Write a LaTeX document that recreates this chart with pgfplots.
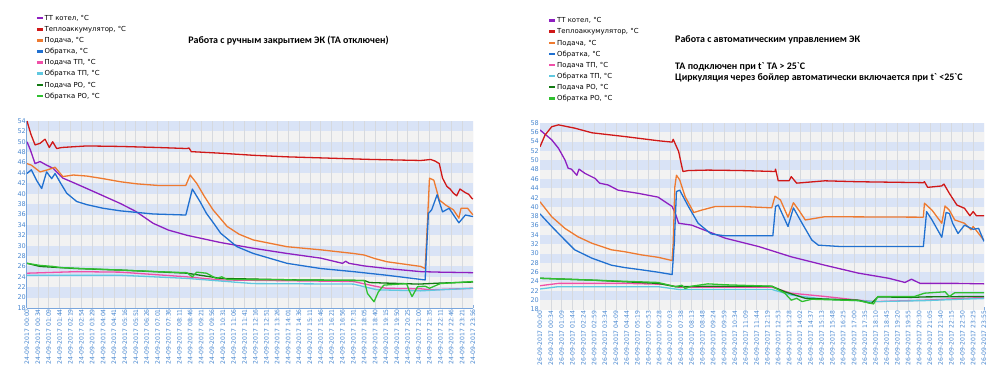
\documentclass[border=0pt]{standalone}
\usepackage{fontspec}
\setmainfont{DejaVu Sans}
\newfontfamily\titlefont{Carlito}
\usepackage{pgfplots}
\pgfplotsset{compat=1.18}
\definecolor{cPurple}{HTML}{8E1FC0}
\definecolor{cRed}{HTML}{D01818}
\definecolor{cOrange}{HTML}{EE7A30}
\definecolor{cBlue}{HTML}{2070D0}
\definecolor{cPink}{HTML}{F050A8}
\definecolor{cCyan}{HTML}{60C8E0}
\definecolor{cDGreen}{HTML}{127A12}
\definecolor{cGreen}{HTML}{30C030}
\definecolor{bandblue}{HTML}{D9E3F6}
\definecolor{bandgrey}{HTML}{F2F2F2}
\definecolor{tickblue}{HTML}{4A88D0}
\definecolor{axisblue}{HTML}{7AA6DC}
\definecolor{gridc}{HTML}{D6D9DE}
\pgfplotsset{
  legend image code/.code={\draw[#1,line width=2.5pt] (0pt,0pt) -- (6pt,0pt);},
  mychart/.style={
    scale only axis,
    anchor=south west,
    xmin=0, xmax=41,
    xtick={0,...,41},
    axis lines*=left,
    axis line style={color=axisblue, line width=1pt},
    tick style={color=axisblue, line width=0.6pt},
    major tick length=3pt,
    /pgf/number format/assume math mode=true,
    xticklabel style={rotate=90, anchor=east, font=\fontsize{6.1}{7}\selectfont, color=tickblue, inner sep=1pt},
    yticklabel style={font=\fontsize{6.5}{7}\selectfont, color=tickblue, inner sep=1pt},
    legend cell align=left,
    legend style={draw=none, fill=none, anchor=north west,
      font=\fontsize{6.9}{8}\selectfont, row sep=2.4pt,
      nodes={inner sep=0.6pt, text height=6pt, text depth=1.5pt}},
    every axis plot/.append style={line width=1.3pt, line join=round},
  }
}
\begin{document}
\begin{tikzpicture}
\useasboundingbox (0pt,0pt) rectangle (1000pt,380pt);
% ---------------- left chart
\begin{axis}[mychart,
  at={(27pt,72pt)}, width=446pt, height=187pt,
  ymin=18, ymax=54, ytick={18,20,...,54},
  legend style={at={(axis description cs:0.012,1.585)}},
  xticklabels={24-09-2017 00:00,24-09-2017 00:34,24-09-2017 01:09,24-09-2017 01:44,24-09-2017 02:19,24-09-2017 02:54,24-09-2017 03:29,24-09-2017 04:04,24-09-2017 04:41,24-09-2017 05:16,24-09-2017 05:51,24-09-2017 06:26,24-09-2017 07:01,24-09-2017 07:36,24-09-2017 08:11,24-09-2017 08:46,24-09-2017 09:21,24-09-2017 09:56,24-09-2017 10:31,24-09-2017 11:06,24-09-2017 11:41,24-09-2017 12:16,24-09-2017 12:51,24-09-2017 13:26,24-09-2017 14:01,24-09-2017 14:36,24-09-2017 15:11,24-09-2017 15:46,24-09-2017 16:21,24-09-2017 16:56,24-09-2017 17:31,24-09-2017 18:05,24-09-2017 18:40,24-09-2017 19:15,24-09-2017 19:50,24-09-2017 20:25,24-09-2017 21:00,24-09-2017 21:35,24-09-2017 22:11,24-09-2017 22:46,24-09-2017 23:21,24-09-2017 23:56},
]
\pgfplotsinvokeforeach{0,...,8}{
  \fill[bandblue] (axis cs:0,{20+4*#1}) rectangle (axis cs:41,{22+4*#1});
  \fill[bandgrey] (axis cs:0,{18+4*#1}) rectangle (axis cs:41,{20+4*#1});
}
\pgfplotsinvokeforeach{1,...,41}{
  \draw[gridc, line width=0.6pt] (axis cs:#1,18) -- (axis cs:#1,54);
}
\addplot[cPurple] coordinates {(0,50.0)(0.3,48.5)(0.74,45.8)(1.2,46.2)(1.8,45.5)(2.4,44.9)(3.3,43.0)(4.2,42.2)(5.5,41.0)(7,39.6)(8.6,38.1)(10,36.6)(11.6,34.3)(13,33.0)(14.7,32.0)(17.8,30.6)(20.8,29.5)(23.9,28.5)(27,27.6)(29,26.6)(29.3,27.0)(29.6,26.6)(31,26.1)(33.1,25.6)(36.2,25.0)(38,24.9)(41,24.8)};
\addlegendentry{ТТ котел, °C}
\addplot[cRed] coordinates {(0,54)(0.35,51.5)(0.74,49.4)(1.2,49.7)(1.66,50.5)(2.05,48.9)(2.36,50.0)(2.73,48.7)(3.2,48.9)(3.96,49.0)(5.5,49.2)(8.6,49.1)(12,48.9)(14.7,48.7)(14.9,48.8)(15.1,48.1)(17.8,47.8)(20.8,47.4)(23.9,47.1)(27,46.9)(31.6,46.6)(36.2,46.4)(36.7,46.5)(37.1,46.6)(37.5,46.3)(37.9,45.8)(38.2,43.0)(38.6,41.4)(38.9,40.9)(39.2,40.1)(39.5,39.6)(39.8,40.9)(40.3,40.2)(40.6,39.9)(40.9,39.1)(41,39.0)};
\addlegendentry{Теплоаккумулятор, °C}
\addplot[cOrange] coordinates {(0,45.8)(0.4,45.5)(1.2,44.2)(1.9,44.6)(2.58,45.1)(3.3,43.3)(4.26,43.6)(5.5,43.4)(7,42.9)(8.6,42.3)(10.1,41.9)(12,41.6)(14.6,41.6)(15,43.6)(15.6,42.0)(16.3,39.5)(17.1,36.9)(18.4,33.7)(19.5,32.2)(20.8,31.1)(23.9,29.8)(27,29.2)(30,28.5)(31,28.2)(32,27.5)(33.1,26.9)(36.2,26.0)(36.6,25.6)(36.8,34)(37.0,43.0)(37.4,42.6)(37.9,38.8)(38.5,37.8)(39.2,36.9)(39.7,35.3)(39.9,37.2)(40.5,37.2)(41,35.9)};
\addlegendentry{Подача, °C}
\addplot[cBlue] coordinates {(0,43.9)(0.4,44.6)(0.9,42.5)(1.35,41.0)(1.8,44.2)(2.27,42.9)(2.58,43.9)(3.1,42)(3.65,40.1)(4.57,38.5)(5.5,37.9)(7,37.2)(8.6,36.7)(11.6,36.1)(14.6,35.9)(15.2,40.9)(15.9,38.5)(16.5,36.2)(17.2,34.2)(17.8,32.4)(19.3,29.8)(20.8,28.5)(23.9,26.6)(27,25.6)(30,25.0)(33.1,24.3)(36.6,23.4)(36.9,36.2)(37.2,36.9)(37.7,39.8)(38.2,36.5)(38.8,37.2)(39.7,34.4)(40.3,35.9)(41,35.6)};
\addlegendentry{Обратка, °C}
\addplot[cPink] coordinates {(0,24.7)(4.6,25.0)(8.6,24.9)(14.7,24.0)(17.8,23.4)(30,23.1)(32,22.2)(33,21.8)(36.2,21.7)(37.1,21.5)(41,21.8)};
\addlegendentry{Подача ТП, °C}
\addplot[cCyan] coordinates {(0,24.3)(8.6,24.3)(14.7,23.7)(20.8,22.7)(30,22.6)(32.2,21.5)(36.2,21.3)(38,21.5)(41,21.8)};
\addlegendentry{Обратка ТП, °C}
\addplot[cDGreen] coordinates {(0,26.6)(1.2,26.0)(4.5,25.6)(8.6,25.3)(14.7,24.7)(17.8,23.7)(25,23.4)(31,23.3)(31.5,22.9)(33,22.8)(36,22.6)(38,22.8)(41,23.0)};
\addlegendentry{Подача РО, °C}
\addplot[cGreen] coordinates {(0,26.6)(1.2,26.2)(2.4,26.0)(3,25.8)(5,25.6)(8.6,25.3)(12,25.0)(14.7,24.8)(15.2,24.0)(15.6,24.9)(16.5,24.7)(17.4,23.7)(17.9,24.0)(18.4,23.5)(25,23.4)(31,23.3)(31.3,20.8)(31.9,19.2)(32.3,21.1)(32.8,22.4)(34.9,22.7)(35.1,21.5)(35.4,20.2)(35.9,22.1)(36.6,22.2)(37,21.8)(38,22.7)(41,23.1)};
\addlegendentry{Обратка РО, °C}
\end{axis}
% ---------------- right chart
\begin{axis}[mychart,
  at={(540pt,70.5pt)}, width=444pt, height=186.5pt,
  ymin=18, ymax=58, ytick={18,20,...,58},
  legend style={at={(axis description cs:0.011,1.584)}},
  xticklabels={26-09-2017 00:00,26-09-2017 00:34,26-09-2017 01:09,26-09-2017 01:44,26-09-2017 02:24,26-09-2017 02:59,26-09-2017 03:34,26-09-2017 04:09,26-09-2017 04:44,26-09-2017 05:19,26-09-2017 05:53,26-09-2017 06:28,26-09-2017 07:03,26-09-2017 07:38,26-09-2017 08:13,26-09-2017 08:48,26-09-2017 09:24,26-09-2017 09:59,26-09-2017 10:34,26-09-2017 11:09,26-09-2017 11:44,26-09-2017 12:19,26-09-2017 12:53,26-09-2017 13:28,26-09-2017 14:02,26-09-2017 14:37,26-09-2017 15:13,26-09-2017 15:48,26-09-2017 16:25,26-09-2017 17:00,26-09-2017 17:35,26-09-2017 18:10,26-09-2017 18:45,26-09-2017 19:20,26-09-2017 19:55,26-09-2017 20:30,26-09-2017 21:05,26-09-2017 21:40,26-09-2017 22:15,26-09-2017 22:50,26-09-2017 23:25,26-09-2017 23:55},
]
\pgfplotsinvokeforeach{0,...,9}{
  \fill[bandblue] (axis cs:0,{20+4*#1}) rectangle (axis cs:41,{22+4*#1});
  \fill[bandgrey] (axis cs:0,{18+4*#1}) rectangle (axis cs:41,{20+4*#1});
}
\pgfplotsinvokeforeach{1,...,41}{
  \draw[gridc, line width=0.6pt] (axis cs:#1,18) -- (axis cs:#1,58);
}
\addplot[cPurple] coordinates {(0,56.5)(1.08,54.4)(1.7,52.6)(2.3,50.1)(2.6,48.3)(2.9,48.1)(3.4,46.8)(3.6,48.1)(4.15,47.2)(5.1,46.1)(5.5,45.1)(6.3,44.7)(7.2,43.6)(9.1,42.9)(10.9,42.1)(12.2,40.1)(12.5,38.6)(12.8,36.5)(14,36.1)(17.1,33.3)(20.2,31.5)(23.2,29.3)(26.3,27.5)(29.4,25.8)(32.2,24.7)(33.7,23.8)(34.3,24.5)(35.1,23.6)(38.6,23.6)(41,23.5)};
\addlegendentry{ТТ котел, °C}
\addplot[cRed] coordinates {(0,52.9)(0.46,55.4)(1.08,57.2)(1.7,57.6)(3.2,56.9)(4.8,55.9)(7.8,55.1)(10.9,54.2)(12.2,53.9)(12.3,54.5)(12.8,51.9)(13.0,49.7)(13.2,47.6)(13.7,47.8)(15.5,47.9)(18.6,47.8)(21.7,47.6)(21.75,48.1)(22.0,45.6)(23.0,45.6)(23.2,46.5)(23.7,45.1)(26.3,45.6)(29.4,45.4)(32.5,45.3)(35.4,45.2)(35.5,45.4)(35.8,44.2)(37.1,44.5)(37.3,44.9)(37.8,42.9)(38.5,40.4)(39.2,39.7)(39.7,38.1)(40,39.0)(40.3,38.1)(41,38.1)};
\addlegendentry{Теплоаккумулятор, °C}
\addplot[cOrange] coordinates {(0,41.1)(1.08,37.9)(2.3,35.4)(3.5,33.6)(4.8,32.2)(6.6,30.8)(7.8,30.4)(9.4,29.7)(10.9,29.2)(12.2,28.5)(12.3,32.2)(12.45,44.3)(12.6,46.8)(12.9,45.8)(13.4,42.2)(14.2,38.8)(14.9,39.3)(16.2,40.1)(18.6,40.1)(21.4,39.8)(21.7,42.3)(22.2,41.5)(22.9,37.8)(23.4,40.9)(23.9,39.3)(24.5,37.2)(26.3,37.9)(35.4,37.8)(35.5,40.8)(36.2,39.3)(37.1,36.5)(37.4,40.2)(37.8,39.3)(38.3,37.2)(39.2,36.5)(39.8,35.1)(40,35.8)(41,32.8)};
\addlegendentry{Подача, °C}
\addplot[cBlue] coordinates {(0,38.5)(1.08,35.8)(2.3,32.9)(3.2,30.8)(4.8,29.0)(6.6,27.5)(7.8,27.0)(9.4,26.5)(10.9,26.0)(12.2,25.5)(12.4,32.2)(12.6,43.3)(12.9,43.6)(13.7,40.1)(14.6,36.5)(15.8,34.2)(17.1,33.8)(21.5,33.8)(21.75,40.1)(22.0,40.4)(22.9,35.8)(23.4,39.8)(24.2,36.5)(25.1,32.9)(25.7,31.8)(27.8,31.5)(35.4,31.5)(35.7,39.0)(36.2,37.2)(37.1,33.5)(37.5,38.8)(37.8,38.6)(38.1,36.5)(38.6,34.3)(39.2,36.1)(40,35.2)(40.5,35.4)(41,32.6)};
\addlegendentry{Обратка, °C}
\addplot[cPink] coordinates {(0,23.1)(1.7,23.6)(7.8,23.6)(11.5,23.4)(12.8,22.8)(21.4,22.8)(23.2,21.5)(26.3,20.8)(29.4,20.0)(30.9,19.7)(35.5,20.0)(41,20.6)};
\addlegendentry{Подача ТП, °C}
\addplot[cCyan] coordinates {(0,22.4)(1.7,22.9)(10.9,22.9)(12.8,22.3)(21.4,22.3)(23.2,21.1)(26.3,20.2)(29.4,19.9)(30.9,19.7)(35.5,19.9)(41,20.4)};
\addlegendentry{Обратка ТП, °C}
\addplot[cDGreen] coordinates {(0,24.7)(4.8,24.3)(10.9,23.6)(12.5,22.9)(15.9,23.0)(21.4,23.0)(22.6,21.8)(24.5,20.4)(29.4,20.0)(30.6,19.3)(31.2,20.7)(34.3,20.6)(35.5,20.7)(41,20.8)};
\addlegendentry{Подача РО, °C}
\addplot[cGreen] coordinates {(0,24.7)(4.8,24.3)(10.9,23.8)(12.5,22.9)(13.1,23.2)(13.4,22.5)(14,23.0)(15.5,23.5)(17.1,23.3)(21.4,23.0)(22.6,21.5)(23.2,20.0)(23.7,20.4)(24.2,19.7)(25.1,20.2)(29.4,19.9)(30.8,19.2)(31.2,20.8)(34.6,20.8)(35.5,21.5)(37.4,21.8)(37.8,20.8)(38.3,21.6)(41,21.6)};
\addlegendentry{Обратка РО, °C}
\end{axis}
% ---------------- titles
\node[anchor=center, font=\titlefont\bfseries\fontsize{10}{12}\selectfont] at (288.5pt,339pt) {Работа с ручным закрытием ЭК (ТА отключен)};
\node[anchor=west, inner sep=0pt, font=\titlefont\bfseries\fontsize{10}{12}\selectfont] at (675pt,340pt) {Работа с автоматическим управлением ЭК};
\node[anchor=west, inner sep=0pt, font=\titlefont\bfseries\fontsize{10}{12}\selectfont] at (675pt,313pt) {ТА подключен при t` ТА > 25`С};
\node[anchor=west, inner sep=0pt, font=\titlefont\bfseries\fontsize{10}{12}\selectfont] at (675pt,302pt) {Циркуляция через бойлер автоматически включается при t` <25`С};
\end{tikzpicture}
\end{document}
